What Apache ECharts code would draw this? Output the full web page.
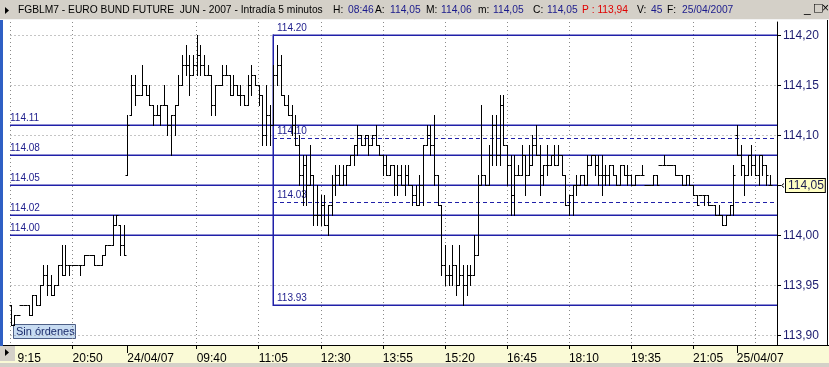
<!DOCTYPE html>
<html><head><meta charset="utf-8">
<script src="https://cdn.jsdelivr.net/npm/echarts@6/dist/echarts.min.js"></script>
<style>html,body{margin:0;padding:0;background:#fff;}#c{width:829px;height:367px;}</style>
</head><body><div id="c"></div>
<script>
// ---- sessions used to build the 5-minute categories ----
const sessions = [
  {date:'23/04', start:'19:15', end:'22:00', skip:['19:25','20:05']},
  {date:'24/04', start:'08:05', end:'22:00', skip:['20:15']},
  {date:'25/04', start:'08:05', end:'09:00', skip:[]}
];
// ---- OHLC values (one per 5-minute bar) ----
const open = [
113.93,113.91,113.92,113.93,113.93,113.93,113.92,113.94,113.93,113.95,
113.96,113.95,113.94,113.95,113.97,113.96,113.97,113.97,113.97,113.97,
113.97,113.98,113.98,113.98,113.97,113.97,113.98,113.99,113.99,114.01,
114.01,113.99,114.06,114.12,114.15,114.14,114.14,114.15,114.14,114.13,
114.12,114.12,114.13,114.13,114.11,114.12,114.13,114.15,114.17,114.17,
114.16,114.17,114.18,114.17,114.16,114.16,114.13,114.15,114.15,114.16,
114.16,114.14,114.15,114.14,114.14,114.13,114.15,114.16,114.15,114.14,
114.10,114.12,114.11,114.16,114.17,114.14,114.13,114.12,114.11,114.09,
114.06,114.07,114.05,114.06,114.02,114.02,114.03,114.01,114.03,114.05,
114.06,114.05,114.06,114.07,114.08,114.09,114.10,114.09,114.10,114.09,
114.10,114.09,114.08,114.07,114.06,114.07,114.05,114.06,114.05,114.06,
114.05,114.04,114.03,114.05,114.09,114.10,114.09,114.06,114.03,113.97,
113.96,113.96,113.97,113.95,113.96,113.95,113.96,113.96,113.98,114.05,
114.06,114.05,114.08,114.11,114.08,114.13,114.09,114.07,114.04,114.06,
114.06,114.08,114.06,114.07,114.09,114.08,114.06,114.07,114.07,114.08,
114.07,114.08,114.06,114.03,114.04,114.05,114.05,114.06,114.05,114.07,
114.08,114.07,114.06,114.06,114.06,114.07,114.06,114.05,114.07,114.06,
114.06,114.05,114.06,114.06,114.05,114.05,114.05,114.06,114.07,114.07,
114.07,114.07,114.07,114.06,114.06,114.05,114.06,114.05,114.04,114.04,
114.04,114.04,114.03,114.03,114.02,114.02,114.01,114.02,114.03,114.10,
114.08,114.07,114.06,114.08,114.07,114.06,114.08,114.07,114.05];
const high = [
113.93,113.92,113.92,113.93,113.93,113.93,113.94,113.94,113.95,113.97,
113.97,113.96,113.95,113.97,113.99,113.99,113.97,113.97,113.97,113.97,
113.98,113.98,113.98,113.98,113.97,113.98,113.99,113.99,114.02,114.02,
114.01,114.01,114.12,114.16,114.16,114.14,114.17,114.15,114.15,114.13,
114.13,114.13,114.15,114.13,114.12,114.13,114.16,114.18,114.19,114.18,
114.18,114.20,114.19,114.18,114.17,114.16,114.15,114.15,114.17,114.17,
114.16,114.16,114.15,114.15,114.14,114.16,114.17,114.16,114.15,114.14,
114.15,114.13,114.17,114.19,114.18,114.14,114.14,114.13,114.12,114.10,
114.08,114.08,114.09,114.06,114.05,114.04,114.04,114.03,114.06,114.07,
114.07,114.07,114.07,114.08,114.09,114.11,114.10,114.10,114.10,114.10,
114.11,114.09,114.08,114.08,114.07,114.07,114.07,114.07,114.07,114.07,
114.05,114.05,114.06,114.09,114.11,114.11,114.12,114.06,114.03,113.99,
113.97,113.99,113.97,113.99,113.97,113.97,113.97,114.00,114.06,114.13,
114.06,114.09,114.12,114.12,114.14,114.14,114.09,114.08,114.08,114.07,
114.09,114.08,114.09,114.10,114.11,114.09,114.07,114.09,114.08,114.09,
114.09,114.08,114.06,114.04,114.05,114.06,114.06,114.06,114.08,114.08,
114.08,114.08,114.08,114.07,114.07,114.07,114.06,114.07,114.07,114.07,
114.06,114.06,114.06,114.07,114.05,114.05,114.06,114.06,114.07,114.08,
114.07,114.07,114.07,114.06,114.06,114.06,114.06,114.05,114.04,114.04,
114.04,114.04,114.03,114.03,114.03,114.02,114.02,114.03,114.07,114.11,
114.09,114.07,114.08,114.09,114.08,114.08,114.08,114.07,114.06];
const low = [
113.91,113.91,113.92,113.93,113.93,113.92,113.92,113.93,113.93,113.95,
113.94,113.94,113.94,113.95,113.96,113.96,113.96,113.97,113.97,113.96,
113.97,113.98,113.98,113.97,113.97,113.97,113.98,113.99,113.99,114.01,
113.98,113.98,114.06,114.12,114.13,114.14,114.14,114.14,114.13,114.11,
114.12,114.11,114.13,114.10,114.08,114.10,114.13,114.15,114.16,114.14,
114.16,114.16,114.16,114.16,114.16,114.12,114.12,114.15,114.15,114.16,
114.14,114.14,114.14,114.13,114.13,114.13,114.14,114.15,114.13,114.09,
114.09,114.09,114.11,114.15,114.14,114.13,114.12,114.10,114.09,114.05,
114.03,114.03,114.05,114.01,114.01,114.01,114.01,114.00,114.02,114.04,
114.05,114.05,114.05,114.07,114.07,114.08,114.09,114.09,114.08,114.09,
114.09,114.08,114.06,114.06,114.06,114.04,114.04,114.05,114.04,114.05,
114.03,114.03,114.03,114.03,114.09,114.08,114.05,114.03,113.96,113.95,
113.95,113.95,113.94,113.95,113.93,113.94,113.95,113.96,113.98,114.05,
114.05,114.05,114.07,114.07,114.07,114.09,114.05,114.02,114.02,114.06,
114.06,114.04,114.06,114.07,114.08,114.04,114.05,114.06,114.07,114.07,
114.07,114.06,114.03,114.02,114.02,114.04,114.05,114.05,114.05,114.07,
114.06,114.05,114.04,114.05,114.05,114.06,114.05,114.05,114.06,114.05,
114.05,114.05,114.06,114.06,114.05,114.05,114.05,114.05,114.07,114.07,
114.07,114.07,114.06,114.06,114.05,114.05,114.05,114.04,114.03,114.04,
114.03,114.03,114.03,114.02,114.02,114.01,114.01,114.02,114.02,114.08,
114.06,114.04,114.06,114.06,114.06,114.05,114.06,114.05,114.05];
const close = [
113.91,113.92,113.92,113.93,113.93,113.92,113.94,113.93,113.95,113.96,
113.95,113.94,113.95,113.97,113.96,113.97,113.97,113.97,113.97,113.97,
113.98,113.98,113.98,113.97,113.97,113.98,113.99,113.99,114.01,114.02,
113.99,113.98,114.11,114.15,114.14,114.14,114.15,114.14,114.13,114.12,
114.12,114.13,114.13,114.11,114.12,114.13,114.15,114.17,114.17,114.16,
114.17,114.18,114.17,114.16,114.16,114.13,114.15,114.15,114.16,114.16,
114.14,114.15,114.14,114.14,114.13,114.15,114.16,114.15,114.14,114.10,
114.12,114.11,114.16,114.17,114.14,114.13,114.12,114.11,114.09,114.06,
114.07,114.05,114.06,114.02,114.02,114.03,114.01,114.03,114.05,114.06,
114.05,114.06,114.07,114.08,114.09,114.10,114.09,114.10,114.09,114.10,
114.09,114.08,114.07,114.06,114.07,114.05,114.06,114.05,114.06,114.05,
114.04,114.03,114.05,114.09,114.10,114.09,114.06,114.03,113.97,113.96,
113.96,113.97,113.95,113.96,113.95,113.96,113.96,113.98,114.05,114.06,
114.05,114.08,114.11,114.08,114.13,114.09,114.07,114.04,114.06,114.06,
114.08,114.06,114.07,114.09,114.08,114.06,114.07,114.07,114.08,114.07,
114.08,114.06,114.03,114.04,114.05,114.05,114.06,114.05,114.07,114.08,
114.07,114.06,114.06,114.06,114.07,114.06,114.05,114.07,114.06,114.06,
114.05,114.06,114.06,114.06,114.05,114.05,114.06,114.05,114.07,114.07,
114.07,114.07,114.06,114.06,114.05,114.06,114.05,114.04,114.03,114.04,
114.04,114.03,114.03,114.02,114.02,114.01,114.02,114.03,114.06,114.08,
114.07,114.06,114.08,114.07,114.06,114.08,114.07,114.06,114.05];

// ---- axis tick labels (category index -> text) ----
const tickLabels = [[0,'9:15'],[17,'20:50'],[32,'24/04/07'],[51,'09:40'],[68,'11:05'],[85,'12:30'],
  [102,'13:55'],[119,'15:20'],[136,'16:45'],[153,'18:10'],[170,'19:35'],[187,'21:05'],[199,'25/04/07']];
const gridIdx = [0,17,51,68,85,102,119,136,153,170,187,204];
const dayIdx = [32,199];
const yTicks = [113.90,113.95,114.00,114.05,114.10,114.15,114.20];
const lastPrice = 114.05;

// ---- drawn studies ----
const hLevels = [114.11,114.08,114.05,114.02,114.00];
const hLevelLabels = ['114.11','114.08','114.05','114.02','114.00'];
const boxStart = 72, boxTop = 114.20, boxBottom = 113.93;
const boxLabels = ['114.20','113.93'];
const fibLevels = [114.097,114.033];
const fibLabels = ['114.10','114.03'];

// ---- build categories ----
function toMin(s){const p=s.split(':');return (+p[0])*60+(+p[1]);}
function fmt(m){const h=Math.floor(m/60),mm=m%60;return String(h).padStart(2,'0')+':'+String(mm).padStart(2,'0');}
const categories = [];
sessions.forEach(s=>{for(let m=toMin(s.start);m<=toMin(s.end);m+=5){const t=fmt(m);if(s.skip.indexOf(t)<0)categories.push(s.date+' '+t);}});
const lastCat = categories.length-1;

const labelMap = new Map(tickLabels);
const gridSet = new Set(gridIdx), daySet = new Set(dayIdx);
const rows = open.map((o,i)=>[i,o,high[i],low[i],close[i]]);

const NAVY = '#2020a8', NAVYT = '#1c1c8c';
const FONT = '"Liberation Sans", Arial, sans-serif';

// study segments: [xStartIdx, xEndIdx, yStart, yEnd, dashed(0/1), labelDx]
const studyRows = [], studyText = [];
hLevels.forEach((v,k)=>{studyRows.push([0,lastCat,v,v,0,0]);studyText.push(hLevelLabels[k]);});
studyRows.push([boxStart,lastCat,boxTop,boxTop,0,4]); studyText.push(boxLabels[0]);
studyRows.push([boxStart,lastCat,boxBottom,boxBottom,0,4]); studyText.push(boxLabels[1]);
studyRows.push([boxStart,boxStart,boxTop,boxBottom,0,0]); studyText.push('');
fibLevels.forEach((v,k)=>{studyRows.push([boxStart,lastCat,v,v,1,4]);studyText.push(fibLabels[k]);});

function renderOHLC(params, api){
  const i = api.value(0);
  const o = api.coord([i, api.value(1)]);
  const h = api.coord([i, api.value(2)]);
  const l = api.coord([i, api.value(3)]);
  const c = api.coord([i, api.value(4)]);
  const x = Math.round(h[0]) + 0.5;
  const yh = Math.floor(h[1]), yl = Math.floor(l[1]);
  const yo = Math.floor(o[1]) + 0.5, yc = Math.floor(c[1]) + 0.5;
  const st = {stroke:'#000', lineWidth:1};
  return {type:'group', children:[
    {type:'line', shape:{x1:x,y1:yh,x2:x,y2:yl+1}, style:st},
    {type:'line', shape:{x1:x-2,y1:yo,x2:x,y2:yo}, style:st},
    {type:'line', shape:{x1:x,y1:yc,x2:x+2,y2:yc}, style:st}
  ]};
}
function renderStudy(params, api){
  const p1 = api.coord([api.value(0), api.value(2)]);
  const p2 = api.coord([api.value(1), api.value(3)]);
  const dashed = api.value(4) === 1;
  const txt = studyText[params.dataIndex];
  const st = dashed ? {stroke:NAVY, lineWidth:1, lineDash:[4,3]} : {stroke:NAVY, lineWidth:1.5};
  let shape;
  if (Math.abs(p1[1]-p2[1]) < 0.01) {
    const y = dashed ? Math.floor(p1[1]) + 0.5 : Math.floor(p1[1]) + 0.25;
    shape = {x1:Math.floor(p1[0]), y1:y, x2:Math.ceil(p2[0]), y2:y};
  } else {
    const x = Math.round(p1[0]) + 0.25;
    shape = {x1:x, y1:Math.floor(p1[1]) - 0.5, x2:x, y2:Math.floor(p2[1]) + 1};
  }
  const children = [{type:'line', shape:shape, style:st}];
  if (txt) children.push({type:'text', x:Math.floor(p1[0]) + api.value(5), y:Math.floor(p1[1]) - 2,
    style:{text:txt, fill:NAVYT, fontSize:10, fontFamily:FONT, verticalAlign:'bottom', align:'left'}});
  return {type:'group', children:children};
}

const hdr = [
  ['FGBLM7 - EURO BUND FUTURE  JUN - 2007 - Intradía 5 minutos',18,'#000'],
  ['H:',333,'#000'],['08:46',348,'#1a1a8c'],
  ['A:',375,'#000'],['114,05',390,'#1a1a8c'],
  ['M:',426,'#000'],['114,06',441,'#1a1a8c'],
  ['m:',478,'#000'],['114,05',493,'#1a1a8c'],
  ['C:',533,'#000'],['114,05',547,'#1a1a8c'],
  ['P : 113,94',582,'#e00000'],
  ['V:',637,'#000'],['45',651,'#1a1a8c'],
  ['F:',667,'#000'],['25/04/2007',682,'#1a1a8c']
];

const graphics = [
  {type:'rect', z:-10, shape:{x:0,y:346,width:829,height:21}, style:{fill:'#fafad6'}},
  {type:'rect', z:-9, shape:{x:0,y:363,width:829,height:4}, style:{fill:'#d4d0c8'}},
  {type:'rect', z:100, shape:{x:0,y:0,width:829,height:20}, style:{fill:'#d4d0c8'}},
  {type:'line', z:100, shape:{x1:0,y1:19.5,x2:829,y2:19.5}, style:{stroke:'#f4f4f4',lineWidth:1}},
  {type:'polygon', z:101, shape:{points:[[5,7],[5,14],[9,10.5]]}, style:{fill:'#000'}},
  {type:'rect', z:100, shape:{x:0,y:20,width:3,height:326}, style:{fill:'#2f5fc4'}},
  {type:'rect', z:100, shape:{x:0,y:346,width:15,height:15}, style:{fill:'#d4d0c8'}},
  {type:'polygon', z:101, shape:{points:[[5,349],[5,356],[9,352.5]]}, style:{fill:'#000'}},
  {type:'line', z:50, shape:{x1:827.5,y1:20,x2:827.5,y2:346}, style:{stroke:'#000',lineWidth:1}},
  {type:'line', z:50, shape:{x1:0,y1:345.5,x2:829,y2:345.5}, style:{stroke:'#000',lineWidth:1}},
  {type:'group', z:60, x:13, y:324, children:[
    {type:'rect', shape:{x:0.5,y:0.5,width:62,height:14}, style:{fill:'#c8dcf2',stroke:'#4d5f86',lineWidth:1}},
    {type:'text', x:3, y:2, style:{text:'Sin órdenes', fill:'#1a2a6a', fontSize:11, fontFamily:FONT}}
  ]},
  {type:'text', z:101, x:804, y:3, style:{text:'_', fill:'#000', fontSize:12, fontFamily:FONT}},
  {type:'text', z:101, x:813, y:3, style:{text:'□', fill:'#000', fontSize:11, fontFamily:'DejaVu Sans'}},
  {type:'text', z:101, x:822, y:3, style:{text:'×', fill:'#000', fontSize:12, fontFamily:FONT}}
];
hdr.forEach(h=>graphics.push({type:'text', z:101, x:h[1], y:5, style:{text:h[0], fill:h[2], fontSize:10.25, fontFamily:FONT}}));

const chart = echarts.init(document.getElementById('c'), null, {renderer:'canvas'});
chart.setOption({
  animation:false,
  backgroundColor:'#fff',
  textStyle:{fontFamily:FONT},
  grid:{left:10.5, right:52, top:22, bottom:22, containLabel:false},
  xAxis:[{
    type:'category', data:categories, boundaryGap:false, position:'bottom',
    axisLine:{show:true, lineStyle:{color:'#000'}},
    axisTick:{show:true, interval:(i)=>labelMap.has(i), length:4, lineStyle:{color:'#000'}},
    axisLabel:{show:true, interval:(i)=>labelMap.has(i), hideOverlap:false,
      formatter:(v,i)=> i===0 ? '{p|'+labelMap.get(i)+'}' : (labelMap.get(i)||''),
      rich:{p:{padding:[0,0,0,7], fontSize:12, color:'#000', fontFamily:FONT}},
      align:'left', color:'#000', fontSize:12, margin:8, fontFamily:FONT},
    splitLine:{show:true, interval:(i)=>gridSet.has(i), lineStyle:{color:'#8a8a8a', type:[1,3], width:1}}
  },{
    type:'category', data:categories, boundaryGap:false, position:'bottom', gridIndex:0,
    axisLine:{show:false}, axisLabel:{show:false}, splitLine:{show:false},
    axisTick:{show:true, interval:(i)=>daySet.has(i), length:8, lineStyle:{color:'#000'}}
  }],
  yAxis:{
    type:'value', position:'right', min:113.8905, max:114.2135, scale:true,
    axisLine:{show:true, lineStyle:{color:'#000'}},
    axisTick:{show:true, customValues:yTicks, length:4, lineStyle:{color:'#000'}},
    axisLabel:{customValues:yTicks, color:'#1c1c70', fontSize:12, margin:6, fontFamily:FONT,
      formatter:(v)=>{const s=v.toFixed(2).replace('.',',');return Math.abs(v-lastPrice)<1e-6?'{sp|}{cur|'+s+'}':s;},
      rich:{sp:{width:3},
        cur:{backgroundColor:'#ffffc4', borderColor:'#000', borderWidth:1, padding:[1,1,0,2], color:'#1c1c50', fontSize:12, fontFamily:FONT}}},
    splitLine:{show:true, lineStyle:{color:'#8a8a8a', type:[1,3], width:1}}
  },
  series:[
    {type:'custom', name:'studies', renderItem:renderStudy, data:studyRows,
      encode:{x:[0,1], y:[2,3]}, z:4, silent:true, clip:false},
    {type:'custom', name:'FGBLM7', renderItem:renderOHLC, data:rows, encode:{x:0, y:[1,2,3,4]}, z:5, silent:true}
  ],
  graphic:graphics
});
// small "last price" arrow next to the yellow box, placed through the y scale
const ay = Math.floor(chart.convertToPixel({yAxisIndex:0}, lastPrice)) + 0.5;
chart.setOption({graphic: graphics.concat([
  {type:'polyline', z:60, shape:{points:[[784,ay-2],[781.5,ay],[784,ay+2]]}, style:{stroke:'#000', lineWidth:1, fill:null}}
])});
</script>
</body></html>
